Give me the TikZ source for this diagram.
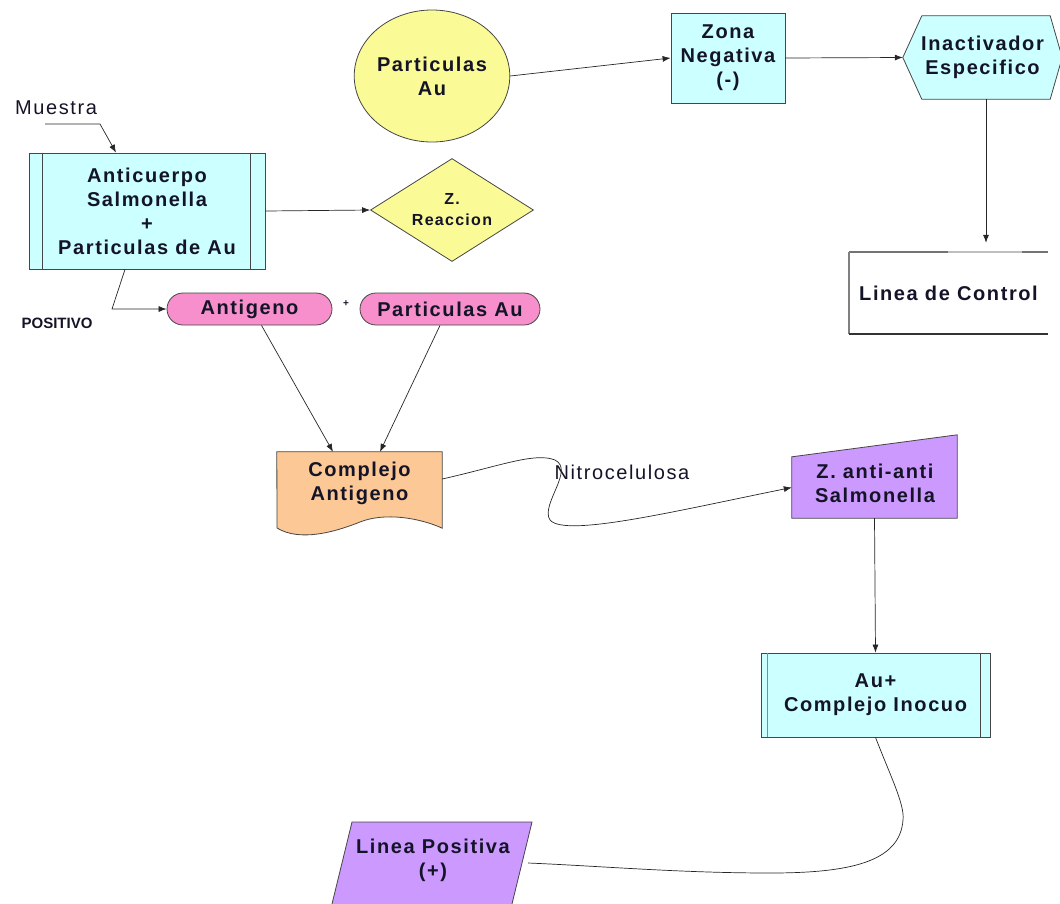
\documentclass[tikz,border=0pt]{standalone}
\usepackage{fontspec}
\setmainfont{Liberation Sans}
\newfontfamily\lbl[LetterSpace=8]{Liberation Sans}
\usetikzlibrary{shapes.geometric,arrows.meta}
\definecolor{cyanf}{RGB}{204,255,255}
\definecolor{yelf}{RGB}{250,250,150}
\definecolor{pinkf}{RGB}{247,143,204}
\definecolor{orf}{RGB}{251,200,150}
\definecolor{purf}{RGB}{204,153,255}
\definecolor{edge}{RGB}{70,70,70}
\definecolor{txt}{RGB}{20,20,40}
\begin{document}
\begin{tikzpicture}[x=1pt,y=-1pt,
  lab/.style={font=\lbl\bfseries\fontsize{20}{24}\selectfont, align=center, text=txt, inner sep=0pt},
  box/.style={lab, draw=edge, line width=0.8pt},
  conn/.style={draw=black!85, line width=0.7pt},
  arr/.style={conn, -{Latex[length=8pt,width=6pt]}}]
\useasboundingbox (0,0) rectangle (1060,903);

% --- shapes ---
\node[box, fill=cyanf, minimum width=236pt, minimum height=116pt] (ac) at (147,211)
  {Anticuerpo\\Salmonella\\+\\Particulas de Au};
\draw[edge, line width=0.8pt] ([xshift=14pt]ac.north west) -- ([xshift=14pt]ac.south west);
\draw[edge, line width=0.8pt] ([xshift=-15pt]ac.north east) -- ([xshift=-15pt]ac.south east);

\node[lab, font=\lbl\fontsize{20}{24}\selectfont] (mu) at (56,108) {Muestra};
\coordinate (m0) at (45,124);

\node[box, diamond, aspect=1.6, fill=yelf, minimum width=163pt, minimum height=103pt,
  font=\lbl\bfseries\fontsize{16}{21}\selectfont] (zr) at (452,210) {Z.\\Reaccion};

\node[box, ellipse, fill=yelf, minimum width=149pt, minimum height=132pt] (pa) at (432,76)
  {Particulas\\Au};

\node[box, fill=cyanf, minimum width=114pt, minimum height=90pt] (zn) at (728,58)
  {Zona\\Negativa\\(-)};

\node[lab, minimum width=159pt, minimum height=83pt] (hx) at (982.5,57.5) {};
\fill[cyanf] (hx.west) -- ([xshift=19pt]hx.north west) -- ([xshift=-12pt]hx.north east)
  -- (hx.east) -- ([xshift=-12pt]hx.south east) -- ([xshift=19pt]hx.south west) -- cycle;
\draw[edge, line width=0.8pt] (hx.west) -- ([xshift=19pt]hx.north west) -- ([xshift=-12pt]hx.north east)
  -- (hx.east) -- ([xshift=-12pt]hx.south east) -- ([xshift=19pt]hx.south west) -- cycle;
\node[lab] at (hx.center) {Inactivador\\Especifico};

\node[lab, minimum width=199pt, minimum height=82pt] (lc) at (948.5,293) {Linea de Control};
\draw[black!55, line width=2pt] (lc.north east) -- ([xshift=-26pt]lc.north east);
\draw[black!25, line width=2pt] ([xshift=-26pt]lc.north east) -- ([xshift=-100pt]lc.north east);
\draw[black!55, line width=2pt] ([xshift=-100pt]lc.north east) -- (lc.north west);
\draw[black!50, line width=2pt] (lc.north west) -- (lc.south west);
\draw[black!80, line width=1.5pt] (lc.south west) -- (lc.south east);

\node[box, fill=pinkf, rounded corners=16pt, minimum width=165pt, minimum height=32pt] (ag) at (249.5,309) {Antigeno};
\node[lab, font=\bfseries\fontsize{10}{12}\selectfont] (pl) at (346,304) {+};
\node[box, fill=pinkf, rounded corners=16pt, minimum width=180pt, minimum height=32pt] (pau) at (450,309) {Particulas Au};

\node[lab, font=\bfseries\fontsize{15}{17}\selectfont] (pos) at (57,323) {POSITIVO};

\node[lab, minimum width=165pt, minimum height=76pt] (ca) at (359.5,490) {};
\draw[edge, line width=0.8pt, fill=orf] (ca.north west) -- (ca.north east) -- (ca.south east)
  .. controls (420,518) and (385,512) .. (360,522)
  .. controls (335,532) and (300,542) .. (277,528) -- cycle;
\node[lab] at (359.5,483) {Complejo\\Antigeno};

\node[lab, minimum width=165pt, minimum height=61pt] (zaa) at (874.5,487.5) {};
\draw[edge, line width=0.8pt, fill=purf] (zaa.south west) -- (zaa.north west)
  -- ([yshift=22pt]zaa.north east) -- (zaa.south east) -- cycle;
\node[lab] at (875,483) {Z. anti-anti\\Salmonella};

\node[box, fill=cyanf, minimum width=229pt, minimum height=84pt] (au) at (875.5,695)
  {Au+\\Complejo Inocuo};
\draw[black!35!cyan!40!gray, line width=1pt] ([xshift=7pt]au.north west) -- ([xshift=7pt]au.south west);
\draw[edge, line width=0.8pt] ([xshift=-10pt]au.north east) -- ([xshift=-10pt]au.south east);

\node[lab, minimum width=190pt, minimum height=60pt] (lp) at (433,863) {};
\draw[edge, line width=0.8pt, fill=purf] (352,822) -- (532,822) -- (511,908) -- (331,908) -- cycle;
\node[lab] at (433,860) {Linea Positiva\\(+)};

\node[lab, font=\lbl\fontsize{20}{24}\selectfont] (nl) at (622,472) {Nitrocelulosa};

% --- connectors ---
\draw[arr] (m0) -- (100,124) -- ([xshift=-31pt]ac.north);
\draw[arr] (ac.east) -- (zr.west);
\draw[arr] ([xshift=-22pt]ac.south) -- (112,309) -- (ag.west);
\draw[arr] (pa.east) -- (zn.west);
\draw[arr] (zn.east) -- (hx.west);
\draw[arr, shorten >=9pt] ([xshift=3.5pt]hx.south) -- ([xshift=37.5pt]lc.north);
\draw[arr] ([xshift=12pt]ag.south) -- ([xshift=-26.5pt]ca.north);
\draw[arr] ([xshift=-10pt]pau.south) -- ([xshift=20.5pt]ca.north);
\draw[arr] ([yshift=11pt]ca.east) .. controls (500,466) and (535,452) .. (555,460)
  .. controls (575,470) and (540,505) .. (550,520)
  .. controls (565,538) and (680,510) .. (zaa.west);
\draw[arr] (zaa.south) -- (au.north);
\draw[conn] (au.south) .. controls (890,775) and (905,805) .. (903,820)
  .. controls (900,862) and (850,873) .. (770,873)
  .. controls (680,873) and (600,866) .. (lp.east);
\end{tikzpicture}
\end{document}
